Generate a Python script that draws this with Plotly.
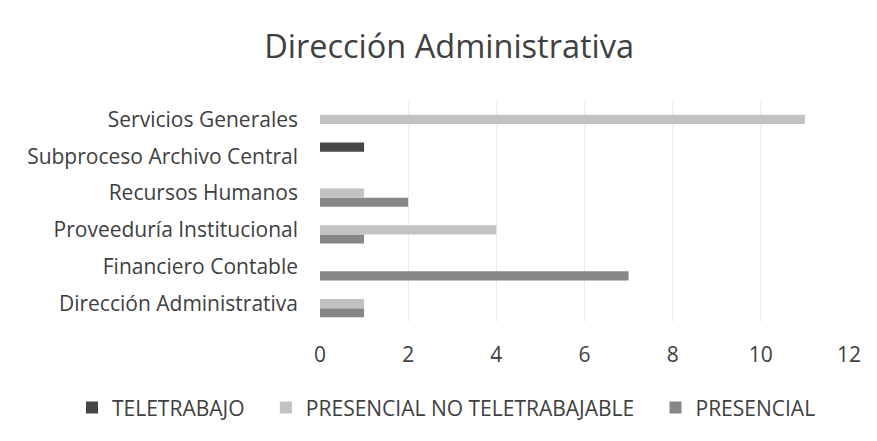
import plotly.graph_objects as go

categories = ["Dirección Administrativa", "Financiero Contable", "Proveeduría Institucional",
              "Recursos Humanos", "Subproceso Archivo Central", "Servicios Generales"]
teletrabajo = [0, 0, 0, 0, 1, 0]
presencial_no_tele = [1, 0, 4, 1, 0, 11]
presencial = [1, 7, 1, 2, 0, 0]
x_ticks = [0, 2, 4, 6, 8, 10, 12]

font_family = "Open Sans, Lato, sans-serif"
text_color = "#404040"
nb = "\u00a0\u00a0\u00a0"

fig = go.Figure()
fig.add_trace(go.Bar(name="PRESENCIAL", y=categories, x=presencial, orientation="h",
                     marker=dict(color="#878787", line=dict(width=0)), legendrank=3))
fig.add_trace(go.Bar(name="PRESENCIAL NO TELETRABAJABLE" + nb, y=categories, x=presencial_no_tele,
                     orientation="h", marker=dict(color="#c2c2c2", line=dict(width=0)), legendrank=2))
fig.add_trace(go.Bar(name="TELETRABAJO" + nb, y=categories, x=teletrabajo, orientation="h",
                     marker=dict(color="#454545", line=dict(width=0)), legendrank=1))

fig.update_layout(
    width=877, height=441,
    paper_bgcolor="white", plot_bgcolor="white",
    margin=dict(l=312, r=36, t=93, b=127, autoexpand=False),
    barmode="group", bargap=0.26, bargroupgap=0,
    title=dict(text="Dirección Administrativa", x=0.503, xanchor="center", xref="container",
               y=0.9116, yanchor="middle", yref="container",
               font=dict(family=font_family, size=32.5, color=text_color)),
    font=dict(family=font_family, size=21, color=text_color),
    xaxis=dict(range=[0, 12], tickvals=x_ticks, showgrid=True, gridcolor="#efefef",
               zeroline=False, showline=False, ticks="", ticklabelstandoff=18,
               tickfont=dict(size=21, color=text_color)),
    yaxis=dict(type="category", categoryorder="array", categoryarray=categories,
               showgrid=False, zeroline=False, showline=False, ticks="", ticklabelstandoff=21,
               tickfont=dict(size=21, color=text_color)),
    legend=dict(orientation="h", x=-0.4688, xanchor="left", xref="paper",
                y=-0.389, yanchor="middle", yref="paper",
                font=dict(size=21, color=text_color), itemwidth=30, traceorder="normal"),
    showlegend=True,
)

fig.write_html("out.html")
